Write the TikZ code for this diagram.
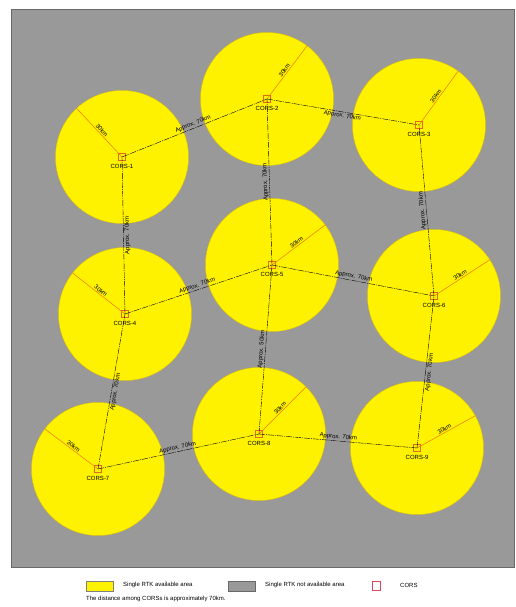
\documentclass[tikz,border=0pt]{standalone}
\usepackage{fontspec}
\setmainfont{Liberation Sans}
\usetikzlibrary{positioning}
\definecolor{bggray}{RGB}{153,153,153}
\definecolor{bgedge}{RGB}{105,105,105}
\definecolor{zoneedge}{RGB}{225,195,0}
\definecolor{corsred}{RGB}{230,105,30}
\definecolor{radred}{RGB}{240,120,0}
\definecolor{legred}{RGB}{220,70,90}
\tikzset{
  tiny/.style={font=\fontsize{6}{7}\selectfont},
  bgbox/.style={fill=bggray, draw=bgedge, line width=0.8pt},
  zone/.style={fill=yellow, draw=zoneedge, line width=0.4pt},
  cors/.style={draw=corsred, line width=0.5pt, minimum size=7pt, inner sep=0pt, fill=none},
  corslab/.style={tiny, inner sep=0.5pt},
  radline/.style={draw=radred, line width=0.5pt},
  radlab/.style={tiny, sloped, above, inner sep=1pt, midway},
  link/.style={draw=black, line width=0.4pt, dash pattern=on 6pt off 1pt on 1pt off 1pt},
  conlab/.style={tiny, sloped, inner sep=1pt, midway},
  legbox/.style={minimum width=27pt, minimum height=10pt, inner sep=0pt, line width=0.5pt},
  legtext/.style={tiny, anchor=west, inner sep=0pt}
}
\begin{document}
\begin{tikzpicture}[x=1pt,y=1pt]
\useasboundingbox (0,0) rectangle (515,607);
\fill[white] (0,0) rectangle (515,607);
\draw[bgbox] (11,40) rectangle (514,598);
% coverage zones
\foreach \x/\y in {122/450, 267/508, 419/482, 125/293, 272/342, 434/311, 98/138, 259/173, 417/159}
  \draw[zone] (\x,\y) circle (66.5);
% stations
\foreach \i/\x/\y/\a in {1/122/450/133, 2/267/508/53, 3/419/482/54, 4/125/293/142, 5/272/342/37, 6/434/311/33, 7/98/138/143, 8/259/173/45, 9/417/159/29}{
  \node[cors] (c\i) at (\x,\y) {};
  \node[corslab, below=2.5pt of c\i] (l\i) {CORS-\i};
  \path (c\i.center) ++(\a:66.5) coordinate (e\i);
  \draw[radline] (c\i.center) -- node[radlab] {30km} (e\i);
}
% connectors
\draw[link] (c1.center) -- node[conlab, above] {Approx. 70km} (c2.center);
\draw[link] (c2.center) -- node[conlab, below] {Approx. 70km} (c3.center);
\draw[link] (c4.center) -- node[conlab, allow upside down, below] {Approx. 70km} (c1.center);
\draw[link] (c5.center) -- node[conlab, allow upside down, above] {Approx. 70km} (c2.center);
\draw[link] (c6.center) -- node[conlab, allow upside down, above] {Approx. 70km} (c3.center);
\draw[link] (c4.center) -- node[conlab, above] {Approx. 70km} (c5.center);
\draw[link] (c5.center) -- node[conlab, above] {Approx. 70km} (c6.center);
\draw[link] (c7.center) -- node[conlab, allow upside down, below] {Approx. 70km} (c4.center);
\draw[link] (c8.center) -- node[conlab, allow upside down, above] {Approx. 50km} (c5.center);
\draw[link] (c9.center) -- node[conlab, allow upside down, below] {Approx. 70km} (c6.center);
\draw[link] (c7.center) -- node[conlab, above] {Approx. 70km} (c8.center);
\draw[link] (c8.center) -- node[conlab, above] {Approx. 70km} (c9.center);
% legend
\node[legbox, fill=yellow, draw=gray] (ly) at (99.5,21) {};
\node[legtext] (ty) at (123,22) {Single RTK available area};
\node[legbox, fill=bggray, draw=bgedge] (lg) at (241.5,21) {};
\node[legtext] (tg) at (265,22) {Single RTK not available area};
\node[legbox, draw=legred, minimum width=8pt, minimum height=9pt] (lr) at (376,21) {};
\node[legtext] (tr) at (400,22) {CORS};
\node[legtext] (tn) at (86,8) {The distance among CORSs is approximately 70km.};
\end{tikzpicture}
\end{document}
